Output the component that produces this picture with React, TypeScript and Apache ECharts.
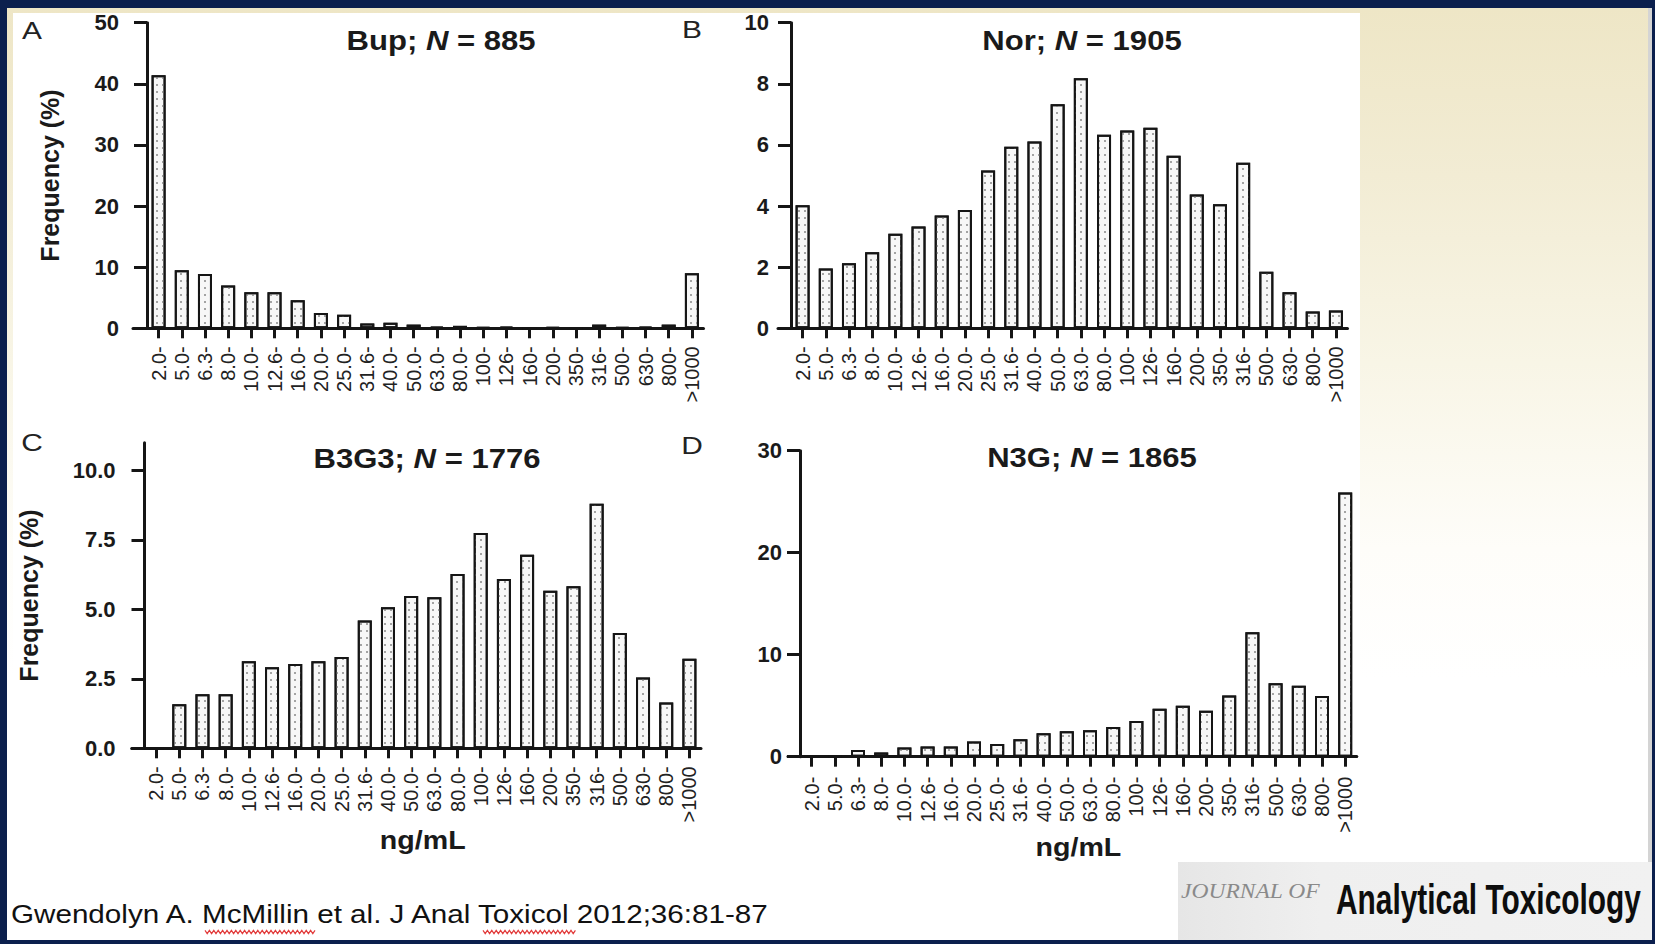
import React, { useEffect, useRef } from "react";
import * as echarts from "echarts";

// ---------- data ----------
const categories = [
  "2.0-", "5.0-", "6.3-", "8.0-", "10.0-", "12.6-", "16.0-", "20.0-", "25.0-", "31.6-",
  "40.0-", "50.0-", "63.0-", "80.0-", "100-", "126-", "160-", "200-", "350-", "316-",
  "500-", "630-", "800-", ">1000",
];

const bupValues = [41.4, 9.5, 8.9, 7.0, 5.9, 5.9, 4.6, 2.5, 2.2, 0.8, 0.9, 0.6, 0.3, 0.4, 0.2, 0.3, 0.0, 0.2, 0.1, 0.6, 0.2, 0.3, 0.6, 9.0];
const norValues = [4.03, 1.96, 2.13, 2.49, 3.09, 3.33, 3.69, 3.87, 5.16, 5.94, 6.11, 7.33, 8.18, 6.33, 6.47, 6.56, 5.65, 4.38, 4.06, 5.42, 1.85, 1.18, 0.55, 0.58];
const b3g3Values = [0, 1.59, 1.95, 1.95, 3.13, 2.92, 3.03, 3.13, 3.29, 4.6, 5.08, 5.48, 5.44, 6.27, 7.75, 6.09, 6.97, 5.67, 5.83, 8.8, 4.15, 2.55, 1.65, 3.22];
const n3gValues = [0, 0.1, 0.65, 0.4, 0.9, 1.0, 1.0, 1.5, 1.25, 1.7, 2.3, 2.5, 2.6, 2.9, 3.5, 4.7, 5.0, 4.5, 6.0, 12.2, 7.2, 6.95, 5.95, 25.9];

const bupTicks = [0, 10, 20, 30, 40, 50];
const norTicks = [0, 2, 4, 6, 8, 10];
const b3g3Ticks = [0, 2.5, 5, 7.5, 10];
const n3gTicks = [0, 10, 20, 30];

const panelNames = ["Bup", "Nor", "B3G3", "N3G"];
const panelCounts = ["885", "1905", "1776", "1865"];
const panelLetters = ["A", "B", "C", "D"];
const yAxisTitle = "Frequency (%)";
const xAxisTitle = "ng/mL";
const citation = "Gwendolyn A. McMillin et al. J Anal Toxicol 2012;36:81-87";
const journalSmall = "JOURNAL OF";
const journalBig = "Analytical Toxicology";

const seriesValues = [bupValues, norValues, b3g3Values, n3gValues];
const seriesTicks = [bupTicks, norTicks, b3g3Ticks, n3gTicks];
const tickDecimals = [0, 0, 1, 0];

// ---------- layout ----------
const layouts = [
  { left: 147, top: 22.7, width: 556.5, height: 305.6, lineLeft: 133, yMax: 50, yLabelMargin: 28, xLabelMargin: 18, titleX: 441, titleY: 41, letterX: 32, letterY: 31, yNameX: 50, xNameY: 0 },
  { left: 791, top: 22.7, width: 556.5, height: 305.6, lineLeft: 778, yMax: 10, yLabelMargin: 22, xLabelMargin: 18, titleX: 1082, titleY: 41, letterX: 692, letterY: 30, yNameX: 0, xNameY: 0 },
  { left: 144.5, top: 442.7, width: 556.5, height: 305.6, lineLeft: 131.7, yMax: 11, yLabelMargin: 29, xLabelMargin: 18, titleX: 427, titleY: 459, letterX: 32, letterY: 443, yNameX: 29, xNameY: 840 },
  { left: 800, top: 450.7, width: 556.8, height: 306, lineLeft: 788, yMax: 30, yLabelMargin: 18, xLabelMargin: 20, titleX: 1092, titleY: 458, letterX: 692, letterY: 446, yNameX: 0, xNameY: 847 },
];

const FONT = "'Liberation Sans', Arial, Helvetica, sans-serif";
const INK = "#151515";

function zigzag(x0: number, x1: number, y: number): number[][] {
  const pts: number[][] = [];
  let up = true;
  for (let x = x0; x <= x1; x += 2.2) {
    pts.push([x, up ? y - 1.6 : y + 1.6]);
    up = !up;
  }
  return pts;
}

function buildOption() {
  const grid: any[] = [];
  const xAxis: any[] = [];
  const yAxis: any[] = [];
  const series: any[] = [];
  const graphic: any[] = [];

  // backgrounds
  graphic.push({
    type: "rect", z: -20, silent: true,
    shape: { x: 7, y: 8, width: 1645, height: 932 },
    style: {
      fill: new echarts.graphic.LinearGradient(0, 0, 0, 1, [
        { offset: 0, color: "#eee6c6" },
        { offset: 0.18, color: "#f2ecd4" },
        { offset: 0.38, color: "#f8f5e6" },
        { offset: 0.58, color: "#fefdf9" },
        { offset: 0.72, color: "#ffffff" },
        { offset: 1, color: "#ffffff" },
      ]),
    },
  });
  graphic.push({ type: "rect", z: -19, silent: true, shape: { x: 13, y: 13, width: 1347, height: 862 }, style: { fill: "#ffffff" } });
  graphic.push({ type: "rect", z: -18, silent: true, shape: { x: 1648, y: 8, width: 4, height: 932 }, style: { fill: "#d4d4d4" } });
  // journal logo box
  graphic.push({
    type: "rect", z: -17, silent: true,
    shape: { x: 1178, y: 862, width: 474, height: 78 },
    style: {
      fill: new echarts.graphic.LinearGradient(0, 0, 1, 0, [
        { offset: 0, color: "#e6e6e6" },
        { offset: 0.3, color: "#efefef" },
        { offset: 1, color: "#f1f1f1" },
      ]),
    },
  });
  graphic.push({
    type: "text", z: 10, x: 1181, y: 891, scaleX: 1.12, silent: true,
    style: { text: journalSmall, fontFamily: "'Liberation Serif', 'DejaVu Serif', serif", fontStyle: "italic", fontSize: 21, fill: "#8a8a8a", textAlign: "left", textVerticalAlign: "middle" },
  });
  graphic.push({
    type: "text", z: 10, x: 1336, y: 899, scaleX: 0.695, silent: true,
    style: { text: journalBig, fontFamily: FONT, fontWeight: "bold", fontSize: 43, fill: "#0d0d0d", textAlign: "left", textVerticalAlign: "middle" },
  });
  // citation
  graphic.push({
    type: "text", z: 10, x: 11, y: 914, scaleX: 1.14, silent: true,
    style: { text: citation, fontFamily: FONT, fontSize: 26, fill: "#111111", textAlign: "left", textVerticalAlign: "middle" },
  });
  graphic.push({ type: "polyline", z: 11, silent: true, shape: { points: zigzag(205, 316, 932) }, style: { stroke: "#e23b3b", lineWidth: 1.2, fill: null } });
  graphic.push({ type: "polyline", z: 11, silent: true, shape: { points: zigzag(483, 577, 932) }, style: { stroke: "#e23b3b", lineWidth: 1.2, fill: null } });

  layouts.forEach((L, i) => {
    const ticks = seriesTicks[i];
    const dec = tickDecimals[i];
    grid.push({ left: L.left, top: L.top, width: L.width, height: L.height, containLabel: false });
    xAxis.push({
      type: "category",
      gridIndex: i,
      data: categories,
      boundaryGap: true,
      axisLine: { show: false },
      axisTick: { show: true, alignWithLabel: true, length: 10, lineStyle: { color: INK, width: 3 } },
      axisLabel: { show: true, interval: 0, rotate: 90, margin: L.xLabelMargin, fontSize: 20, fontFamily: FONT, color: "#222222" },
      splitLine: { show: false },
    });
    yAxis.push({
      type: "value",
      gridIndex: i,
      min: 0,
      max: L.yMax,
      interval: ticks[1] - ticks[0],
      axisLine: { show: true, lineStyle: { color: INK, width: 3 } },
      axisTick: { show: true, length: 13, lineStyle: { color: INK, width: 3 }, customValues: ticks },
      axisLabel: {
        show: true,
        margin: L.yLabelMargin,
        fontSize: 22,
        fontWeight: "bold",
        fontFamily: FONT,
        color: "#1a1a1a",
        customValues: ticks,
        formatter: (v: number) => v.toFixed(dec),
      },
      splitLine: { show: false },
    });
    series.push({
      type: "bar",
      xAxisIndex: i,
      yAxisIndex: i,
      data: seriesValues[i],
      barWidth: 14,
      silent: true,
      z: 3,
      itemStyle: {
        color: "#f7f7f7",
        borderColor: INK,
        borderWidth: 2,
        decal: {
          symbol: "rect",
          symbolSize: 1,
          dashArrayX: [1.4, 4],
          dashArrayY: [1.4, 5],
          color: "#a3a3a3",
        },
      },
    });

    // panel title (N italic)
    graphic.push({
      type: "text", z: 10, x: L.titleX, y: L.titleY, scaleX: 1.15, silent: true,
      style: {
        text: `{b|${panelNames[i]}; }{i|N}{b| = ${panelCounts[i]}}`,
        rich: {
          b: { fontSize: 27, fontWeight: "bold", fontFamily: FONT, fill: "#1a1a1a" },
          i: { fontSize: 27, fontWeight: "bold", fontStyle: "italic", fontFamily: FONT, fill: "#1a1a1a" },
        },
        textAlign: "center",
        textVerticalAlign: "middle",
      },
    });
    graphic.push({
      type: "text", z: 10, x: L.letterX, y: L.letterY, scaleX: 1.3, silent: true,
      style: { text: panelLetters[i], fontSize: 23, fontFamily: FONT, fill: "#222222", textAlign: "center", textVerticalAlign: "middle" },
    });
    if (L.yNameX) {
      graphic.push({
        type: "text", z: 10, x: L.yNameX, y: L.top + L.height / 2, rotation: Math.PI / 2, silent: true,
        style: { text: yAxisTitle, fontSize: 25, fontWeight: "bold", fontFamily: FONT, fill: "#1a1a1a", textAlign: "center", textVerticalAlign: "middle" },
      });
    }
    if (L.xNameY) {
      graphic.push({
        type: "text", z: 10, x: L.left + L.width / 2, y: L.xNameY, scaleX: 1.1, silent: true,
        style: { text: xAxisTitle, fontSize: 26, fontWeight: "bold", fontFamily: FONT, fill: "#1a1a1a", textAlign: "center", textVerticalAlign: "middle" },
      });
    }
  });

  // extended x-axis baselines (GraphPad style, starting left of the y axis)
  layouts.forEach((L, i) => {
    const gi = layouts.length + i;
    grid.push({ left: L.lineLeft, top: L.top, width: L.left + L.width - L.lineLeft, height: L.height });
    xAxis.push({
      type: "value", gridIndex: gi, min: 0, max: 1, position: "bottom",
      axisLine: { show: true, onZero: false, lineStyle: { color: INK, width: 3 } },
      axisTick: { show: false }, axisLabel: { show: false }, splitLine: { show: false },
    });
    yAxis.push({ type: "value", gridIndex: gi, min: 0, max: 1, show: false });
  });

  return {
    animation: false,
    backgroundColor: "#0b1f4d",
    grid,
    xAxis,
    yAxis,
    series,
    graphic: { elements: graphic },
  };
}

export default function App() {
  const ref = useRef<HTMLDivElement | null>(null);
  useEffect(() => {
    if (!ref.current) return;
    const chart = echarts.init(ref.current, undefined, { renderer: "svg" });
    chart.setOption(buildOption() as any);
    return () => chart.dispose();
  }, []);
  return (
    <div
      ref={ref}
      style={{ position: "absolute", left: 0, top: 0, width: 1655, height: 944 }}
    />
  );
}
